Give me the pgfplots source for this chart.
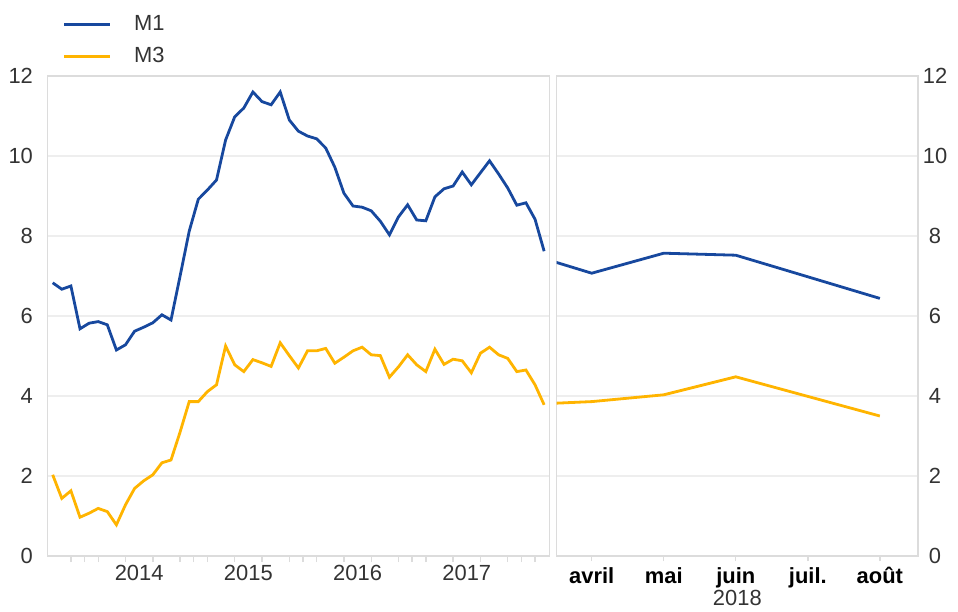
\documentclass[border=0pt]{standalone}
\usepackage{fontspec}
\setmainfont{Liberation Sans}
\usepackage{pgfplots}
\usepackage{pgfplotstable}
\pgfplotsset{compat=1.18}
\definecolor{mblue}{RGB}{23,72,158}
\definecolor{myellow}{RGB}{255,180,0}
\definecolor{gridc}{RGB}{238,238,238}
\definecolor{boxc}{RGB}{220,220,220}
\definecolor{txt}{RGB}{51,51,51}

% monthly data, index 0 = Sept 2013 ... 54 = March 2018
\pgfplotstableread{
i  m1     m3
0  6.83   2.03
1  6.67   1.44
2  6.75   1.63
3  5.68   0.97
4  5.82   1.07
5  5.86   1.19
6  5.78   1.11
7  5.15   0.78
8  5.28   1.28
9  5.62   1.69
10 5.72   1.88
11 5.83   2.03
12 6.03   2.33
13 5.90   2.40
14 7.00   3.10
15 8.12   3.86
16 8.92   3.86
17 9.15   4.11
18 9.40   4.28
19 10.40  5.25
20 10.98  4.78
21 11.20  4.61
22 11.60  4.91
23 11.36  4.83
24 11.28  4.74
25 11.60  5.33
26 10.90  5.01
27 10.62  4.70
28 10.50  5.13
29 10.43  5.13
30 10.20  5.19
31 9.72   4.82
32 9.07   4.97
33 8.75   5.13
34 8.72   5.22
35 8.63   5.03
36 8.37   5.01
37 8.03   4.47
38 8.48   4.73
39 8.78   5.03
40 8.40   4.78
41 8.38   4.61
42 8.98   5.17
43 9.18   4.79
44 9.25   4.92
45 9.60   4.88
46 9.28   4.58
47 9.58   5.07
48 9.88   5.22
49 9.55   5.03
50 9.20   4.94
51 8.77   4.61
52 8.83   4.65
53 8.42   4.28
54 7.62   3.78
}\histdata

% 2018: -1 = mars, 0 = avril, 1 = mai, 2 = juin, 4 = août
\pgfplotstableread{
x  m1    m3
-1 7.62  3.78
0  7.07  3.86
1  7.57  4.03
2  7.52  4.48
4  6.44  3.50
}\projdata

\pgfplotsset{
  mystyle/.style={
    scale only axis,
    height=240bp,
    ymin=0, ymax=12,
    ytick={0,2,...,12},
    axis line style={boxc, line width=0.7bp},
    ymajorgrids,
    grid style={gridc, line width=0.8bp},
    major tick length=0pt,
    tick align=outside,
    xtick pos=left,
    minor tick length=3bp,
    minor tick style={boxc, line width=0.7bp},
    /pgf/number format/assume math mode=true,
    tick label style={font=\fontsize{11}{13}\selectfont},
    yticklabel style={text=txt, inner sep=0pt},
  }
}

\begin{document}
\begin{tikzpicture}[x=1bp,y=1bp]
\useasboundingbox (0,0) rectangle (479,305.5);

\begin{axis}[
  mystyle,
  at={(23.65bp,27.5bp)}, anchor=south west,
  width=251bp,
  xmin=-0.593, xmax=54.57,
  xtick={9.5,21.5,33.5,45.5},
  xticklabels={2014,2015,2016,2017},
  xticklabel style={text=txt, anchor=base, inner sep=0pt, yshift=-12bp},
  minor xtick={2,3.5,5,8,11,14,15.5,17,20,23,26,27.5,29,32,35,38,39.5,41,44,47,50,51.5,53},
  yticklabel style={anchor=east, xshift=-7bp},
  legend style={at={(0.0307,1.127)}, anchor=north west, draw=none, fill=none,
    inner sep=0pt, outer sep=0pt, row sep=7bp,
    font=\fontsize{11}{13}\selectfont, text=txt,
    nodes={inner sep=0pt},
    /tikz/every odd column/.append style={column sep=11.35bp}},
  legend cell align=left,
  legend image post style={line width=1.5bp},
  legend image code/.code={\draw[#1, line width=1.5bp] (0bp,0bp) -- (22.8bp,0bp);},
]
\addplot[mblue, line width=1.4bp] table[x=i, y=m1] {\histdata};
\addlegendentry{M1}
\addplot[myellow, line width=1.4bp] table[x=i, y=m3] {\histdata};
\addlegendentry{M3}
\end{axis}

\begin{axis}[
  mystyle,
  at={(278.35bp,27.5bp)}, anchor=south west,
  width=180.65bp,
  xmin=-0.486, xmax=4.53,
  xtick={0,1,2,3,4},
  xticklabels={avril,mai,juin,juil.,août},
  xticklabel style={font=\fontsize{11}{13}\selectfont\bfseries, text=black, anchor=base, inner sep=0pt, yshift=-13.7bp},
  minor xtick={0,1,2,3,4},
  minor tick length=2.5bp,
  yticklabel pos=right,
  yticklabel style={anchor=center, xshift=8.5bp},
  xlabel={2018},
  xlabel style={at={(axis description cs:0.5,0)}, anchor=base, inner sep=0pt, yshift=-24.5bp, font=\fontsize{11}{13}\selectfont, text=txt},
]
\addplot[mblue, line width=1.4bp] table[x=x, y=m1] {\projdata};
\addplot[myellow, line width=1.4bp] table[x=x, y=m3] {\projdata};
\end{axis}
\end{tikzpicture}
\end{document}
